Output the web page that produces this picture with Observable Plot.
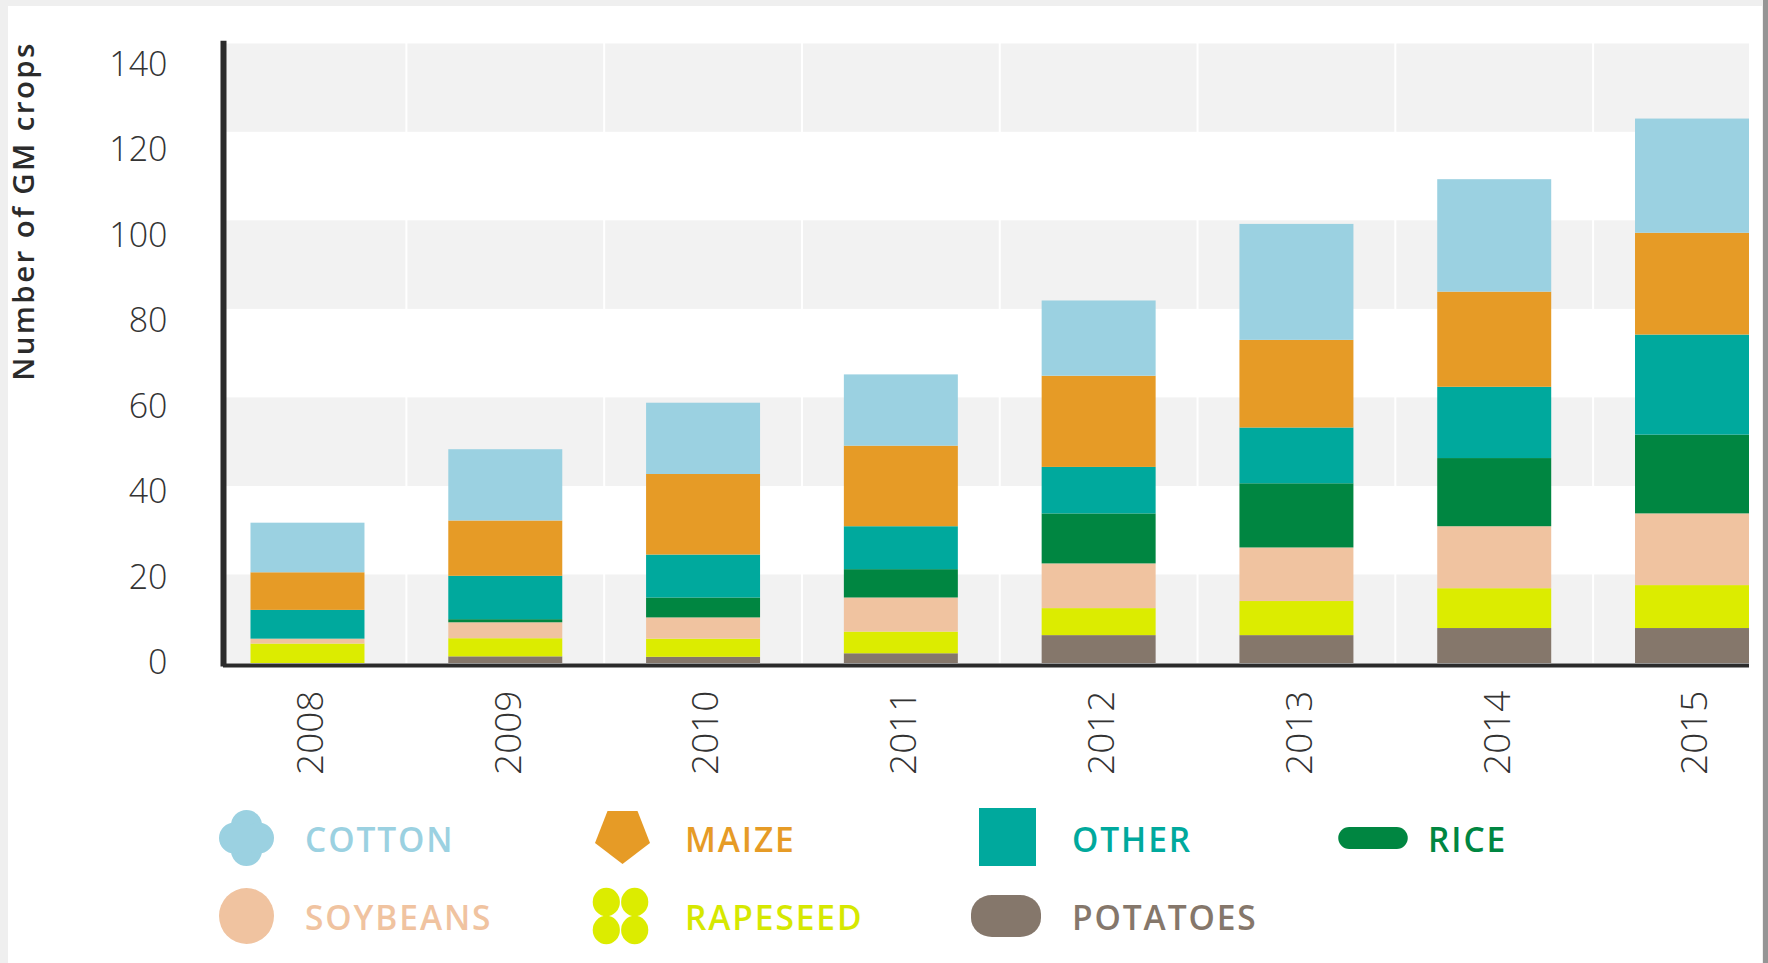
<!DOCTYPE html>
<html>
<head>
<meta charset="utf-8">
<script src="https://cdn.jsdelivr.net/npm/d3@7"></script>
<script src="https://cdn.jsdelivr.net/npm/@observablehq/plot@0.6"></script>
<style>
  html, body { margin: 0; padding: 0; width: 1768px; height: 963px; overflow: hidden; background: #efefef; font-family: "Open Sans", sans-serif; }
  #card { position: absolute; left: 8px; top: 6px; width: 1754px; height: 1000px; background: #ffffff; }
  #edge { position: absolute; left: 1763px; top: 0; width: 5px; height: 963px; background: #959595; }
  #chart { position: absolute; left: 0; top: 0; }
  #overlay { position: absolute; left: 0; top: 0; pointer-events: none; }
</style>
</head>
<body>
<div id="card"></div>
<div id="edge"></div>
<div id="chart"></div>
<svg id="overlay" width="1768" height="963"></svg>
<script>
// ---------------- data ----------------
const years = ["2008", "2009", "2010", "2011", "2012", "2013", "2014", "2015"];
// stack order, bottom to top
const crops = ["Potatoes", "Rapeseed", "Soybeans", "Rice", "Other", "Maize", "Cotton"];
const potatoes = [0, 1.5, 1.4, 2.2, 6.3, 6.3, 7.9, 7.9];
const rapeseed = [4.4, 4.1, 4.1, 4.9, 6.1, 7.7, 9.0, 9.7];
const soybeans = [1.1, 3.6, 4.8, 7.7, 10.1, 12.1, 14.0, 16.2];
const rice     = [0, 0.7, 4.5, 6.4, 11.3, 14.5, 15.4, 17.8];
const other    = [6.5, 9.8, 9.7, 9.7, 10.5, 12.6, 16.1, 22.6];
const maize    = [8.5, 12.5, 18.2, 18.2, 20.6, 19.8, 21.5, 23.0];
const cotton   = [11.2, 16.1, 16.1, 16.1, 17.0, 26.2, 25.4, 25.8];
const yTicks = [0, 20, 40, 60, 80, 100, 120, 140];
const yTitle = "Number of GM crops";
// legend order (as in the picture)
const legendLabels = ["COTTON", "MAIZE", "OTHER", "RICE", "SOYBEANS", "RAPESEED", "POTATOES"];
const legendCrops  = ["Cotton", "Maize", "Other", "Rice", "Soybeans", "Rapeseed", "Potatoes"];

// ---------------- styles ----------------
const colors = ["#85776b", "#dcec00", "#f0c3a0", "#008641", "#00a99d", "#e69b26", "#9bd1e1"];
const colorOf = Object.fromEntries(crops.map((c, i) => [c, colors[i]]));
const textColorOf = {...colorOf, Rapeseed: "#d6e800"};

const series = {Potatoes: potatoes, Rapeseed: rapeseed, Soybeans: soybeans, Rice: rice, Other: other, Maize: maize, Cotton: cotton};
const rows = crops.flatMap(crop => years.map((year, i) => ({year, crop, value: series[crop][i]})));

// alternating grey background stripes (every other tick interval)
const stripes = yTicks.slice(0, -1).filter((_, i) => i % 2 === 0).map(v => [v, yTicks[yTicks.indexOf(v) + 1]]);
const stripeCells = years.flatMap(year => stripes.map(([lo, hi]) => ({year, lo, hi})));

const compress = (index, scales, values, dimensions, context, next) => {
  const y0 = scales.y(0);
  const Y = Array.from(values.y, y => y0 - (y0 - y) * 0.966);
  return next(index, scales, {...values, y: Y}, dimensions, context);
};

const chart = Plot.plot({
  width: 1768,
  height: 800,
  marginLeft: 223,
  marginRight: 19,
  marginTop: 43.3,
  marginBottom: 137,
  style: {background: "transparent", fontFamily: "'Open Sans', sans-serif", overflow: "visible"},
  x: {domain: years, paddingInner: 0.4237, paddingOuter: 0.0695, align: 1, round: false, label: null},
  y: {domain: [0, 140], label: null, axis: null},
  color: {domain: crops, range: colors},
  marks: [
    Plot.barY(stripeCells, {x: "year", y1: "lo", y2: "hi", fill: "#f2f2f2", insetLeft: -40.9, insetRight: -40.9, clip: true}),
    Plot.barY(rows, {x: "year", y: "value", fill: "crop"}),
    Plot.ruleY([0], {stroke: "#2b2b2b", strokeWidth: 4, dy: 2}),
    Plot.frame({anchor: "left", stroke: "#2b2b2b", strokeWidth: 6}),
    Plot.axisX({tickSize: 0, tickPadding: 27, tickRotate: -90, fontSize: 37, fontWeight: 300, color: "#333333", dx: 3, label: null}),
    Plot.text(yTicks, {y: d => d, text: d => String(d), frameAnchor: "left", dx: -56, textAnchor: "end",
      fontSize: 34, fontWeight: 300, fill: "#333333", render: compress})
  ]
});
document.getElementById("chart").appendChild(chart);

// ---------------- y title & legend (outside the plot) ----------------
const ov = d3.select("#overlay");
ov.append("text")
  .attr("transform", "translate(33.5,211) rotate(-90)")
  .attr("text-anchor", "middle")
  .attr("font-family", "'Open Sans', sans-serif")
  .attr("font-weight", 600)
  .attr("font-size", 29.5)
  .attr("letter-spacing", 2.4)
  .attr("fill", "#2b2b2b")
  .text(yTitle);

// legend layout
const iconX = [246.5, 622.5, 1007.5, 1373, 246.5, 620.5, 1006];
const iconY = [838, 837, 837, 838, 916, 916, 916];
const textX = [305, 685, 1072, 1428, 305, 685, 1072];
const baseY = [852, 852, 852, 852, 930, 930, 930];

const icons = {
  Cotton: g => { [[0,-12.5],[0,12.5],[-12,0],[12,0]].forEach(([dx,dy]) => g.append("circle").attr("cx", dx).attr("cy", dy).attr("r", 15.5)); g.append("rect").attr("x",-13).attr("y",-13).attr("width",26).attr("height",26); },
  Maize: g => g.append("path").attr("d", "M-15,-26L15,-26L27.5,6L0,27L-27.5,6Z"),
  Other: g => g.append("rect").attr("x", -28.5).attr("y", -29).attr("width", 57).attr("height", 58),
  Rice: g => g.append("rect").attr("x", -34.75).attr("y", -11).attr("width", 69.5).attr("height", 22).attr("rx", 11),
  Soybeans: g => g.append("ellipse").attr("rx", 27.5).attr("ry", 28),
  Rapeseed: g => { [[-14.2,-14],[14.2,-14],[-14.2,14],[14.2,14]].forEach(([dx,dy]) => g.append("ellipse").attr("cx", dx).attr("cy", dy).attr("rx", 13.6).attr("ry", 14.3)); },
  Potatoes: g => g.append("rect").attr("x", -35).attr("y", -21).attr("width", 70).attr("height", 42).attr("rx", 21).attr("ry", 19)
};

legendCrops.forEach((crop, i) => {
  const g = ov.append("g").attr("transform", `translate(${iconX[i]},${iconY[i]})`).attr("fill", colorOf[crop]);
  icons[crop](g);
  ov.append("text")
    .attr("x", textX[i]).attr("y", baseY[i])
    .attr("font-family", "'Open Sans', sans-serif")
    .attr("font-weight", 600)
    .attr("font-size", 33.5)
    .attr("letter-spacing", 1.9)
    .attr("fill", textColorOf[crop])
    .text(legendLabels[i]);
});
</script>
</body>
</html>
